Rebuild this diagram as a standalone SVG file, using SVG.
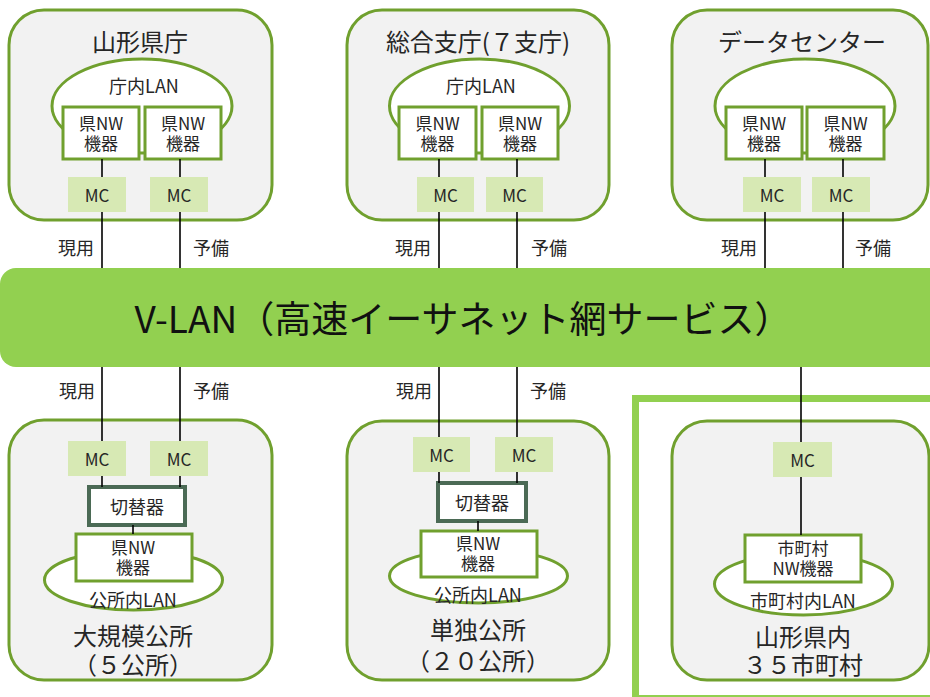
<svg xmlns="http://www.w3.org/2000/svg" width="930" height="697" viewBox="0 0 930 697">
<style>
text{font-family:"Noto Sans CJK JP","Noto Sans",sans-serif;fill:#262626;text-anchor:middle;dominant-baseline:central}
.site{fill:#f2f2f2;stroke:#70a02e;stroke-width:3}
.lan{fill:#fff;stroke:#70a02e;stroke-width:3}
.dev{fill:#fff;stroke:#70a02e;stroke-width:3}
.mc{fill:#d7e9b4}
.sw{fill:#fff;stroke:#4b6a55;stroke-width:4}
.t{font-size:24px}
.m{font-size:17px}
.l{font-size:18px}
.s{font-size:17px}
.c line{stroke:#000;stroke-width:1.6}
</style>
<rect width="930" height="697" fill="#fff"/>

<g id="yamagata-pref">
<rect class="site" x="9" y="10" width="263" height="210" rx="35"/>
<text class="t" x="140" y="40">山形県庁</text>
<ellipse class="lan" cx="142" cy="106" rx="90" ry="47"/>
<text class="l" x="144" y="85">庁内LAN</text>
<rect class="dev" x="63" y="107" width="76" height="52"/>
<rect class="dev" x="145" y="107" width="76" height="52"/>
<text class="m" x="101" y="122">県NW<tspan x="101" dy="20">機器</tspan></text>
<text class="m" x="183" y="122">県NW<tspan x="183" dy="20">機器</tspan></text>
<rect class="mc" x="68" y="177" width="58" height="35"/><text class="s" x="97" y="194.5">MC</text>
<rect class="mc" x="150" y="177" width="58" height="35"/><text class="s" x="179" y="194.5">MC</text>
</g>

<g id="sogo-shicho">
<rect class="site" x="347" y="10" width="262" height="210" rx="35"/>
<text class="t" x="478" y="40">総合支庁(７支庁)</text>
<ellipse class="lan" cx="479.5" cy="106" rx="90" ry="47"/>
<text class="l" x="481" y="85">庁内LAN</text>
<rect class="dev" x="399" y="107" width="77" height="52"/>
<rect class="dev" x="482" y="107" width="76" height="52"/>
<text class="m" x="437.5" y="122">県NW<tspan x="437.5" dy="20">機器</tspan></text>
<text class="m" x="520" y="122">県NW<tspan x="520" dy="20">機器</tspan></text>
<rect class="mc" x="417" y="177" width="57" height="35"/><text class="s" x="445.5" y="194.5">MC</text>
<rect class="mc" x="486" y="177" width="57" height="35"/><text class="s" x="514.5" y="194.5">MC</text>
</g>

<g id="data-center">
<rect class="site" x="672" y="10" width="256" height="210" rx="35"/>
<text class="t" x="802" y="40">データセンター</text>
<ellipse class="lan" cx="805" cy="106" rx="90" ry="47"/>
<rect class="dev" x="726" y="107" width="76" height="52"/>
<rect class="dev" x="807" y="107" width="77" height="52"/>
<text class="m" x="764" y="122">県NW<tspan x="764" dy="20">機器</tspan></text>
<text class="m" x="845.5" y="122">県NW<tspan x="845.5" dy="20">機器</tspan></text>
<rect class="mc" x="743" y="177" width="58" height="35"/><text class="s" x="772" y="194.5">MC</text>
<rect class="mc" x="812" y="177" width="58" height="35"/><text class="s" x="841" y="194.5">MC</text>
</g>

<g id="vlan">
<rect x="0" y="268" width="960" height="99" rx="16" fill="#92d050"/>
<text x="463" y="317" style="font-size:37px;fill:#111">V-LAN（高速イーサネット網サービス）</text>
</g>

<g id="large-office">
<rect class="site" x="9" y="420" width="263" height="260" rx="35"/>
<rect class="mc" x="68" y="441" width="58" height="35"/><text class="s" x="97" y="458.5">MC</text>
<rect class="mc" x="150" y="441" width="58" height="35"/><text class="s" x="179" y="458.5">MC</text>
<rect class="sw" x="89" y="487" width="96" height="38"/><text class="l" x="137" y="506">切替器</text>
<ellipse class="lan" cx="133.5" cy="580" rx="89" ry="30"/>
<rect class="dev" x="76" y="534" width="116" height="47"/>
<text class="m" x="133" y="546">県NW<tspan x="133" dy="20">機器</tspan></text>
<text class="l" x="133" y="599">公所内LAN</text>
<text class="t" x="133" y="634">大規模公所<tspan x="133" dy="29">（５公所）</tspan></text>
</g>

<g id="single-office">
<rect class="site" x="347" y="421" width="262" height="259" rx="35"/>
<rect class="mc" x="413" y="437" width="57" height="35"/><text class="s" x="441.5" y="454.5">MC</text>
<rect class="mc" x="495" y="437" width="58" height="35"/><text class="s" x="524" y="454.5">MC</text>
<rect class="sw" x="438" y="483" width="88" height="38"/><text class="l" x="482" y="502">切替器</text>
<ellipse class="lan" cx="478.5" cy="576" rx="89" ry="27"/>
<rect class="dev" x="421" y="531" width="116" height="46"/>
<text class="m" x="478" y="542">県NW<tspan x="478" dy="20">機器</tspan></text>
<text class="l" x="478" y="594">公所内LAN</text>
<text class="t" x="478" y="628">単独公所<tspan x="478" dy="31">（２０公所）</tspan></text>
</g>

<g id="municipalities">
<rect x="635.5" y="398.5" width="300" height="300" fill="#fff" stroke="#92d050" stroke-width="7"/>
<rect class="site" x="672" y="421" width="257" height="259" rx="35"/>
<rect class="mc" x="773" y="442" width="59" height="35"/><text class="s" x="802.5" y="459.5">MC</text>
<ellipse class="lan" cx="803.5" cy="584" rx="89" ry="31"/>
<rect class="dev" x="745" y="535" width="116" height="47"/>
<text class="m" x="803" y="547">市町村<tspan x="803" dy="20">NW機器</tspan></text>
<text class="l" x="803" y="600">市町村内LAN</text>
<text class="t" x="803" y="635">山形県内<tspan x="803" dy="28">３５市町村</tspan></text>
</g>

<g id="connectors" class="c">
<line x1="102" y1="159" x2="102" y2="177"/><line x1="102" y1="212" x2="102" y2="268"/>
<line x1="180" y1="159" x2="180" y2="177"/><line x1="180" y1="212" x2="180" y2="268"/>
<line x1="439" y1="159" x2="439" y2="177"/><line x1="439" y1="212" x2="439" y2="268"/>
<line x1="517" y1="159" x2="517" y2="177"/><line x1="517" y1="212" x2="517" y2="268"/>
<line x1="765" y1="159" x2="765" y2="177"/><line x1="765" y1="212" x2="765" y2="268"/>
<line x1="843" y1="159" x2="843" y2="177"/><line x1="843" y1="212" x2="843" y2="268"/>
<line x1="102" y1="367" x2="102" y2="441"/><line x1="102" y1="476" x2="102" y2="487"/>
<line x1="180" y1="367" x2="180" y2="441"/><line x1="180" y1="476" x2="180" y2="487"/>
<line x1="133" y1="525" x2="133" y2="534"/>
<line x1="439" y1="367" x2="439" y2="437"/><line x1="439" y1="472" x2="439" y2="483"/>
<line x1="517" y1="367" x2="517" y2="437"/><line x1="517" y1="472" x2="517" y2="483"/>
<line x1="478" y1="521" x2="478" y2="531"/>
<line x1="801" y1="367" x2="801" y2="442"/><line x1="801" y1="477" x2="801" y2="535"/>
<text class="l" x="76" y="247">現用</text><text class="l" x="211" y="247">予備</text>
<text class="l" x="413" y="247">現用</text><text class="l" x="549" y="247">予備</text>
<text class="l" x="739" y="247">現用</text><text class="l" x="873" y="247">予備</text>
<text class="l" x="77" y="390">現用</text><text class="l" x="211" y="390">予備</text>
<text class="l" x="414" y="390">現用</text><text class="l" x="548" y="390">予備</text>
</g>
</svg>
